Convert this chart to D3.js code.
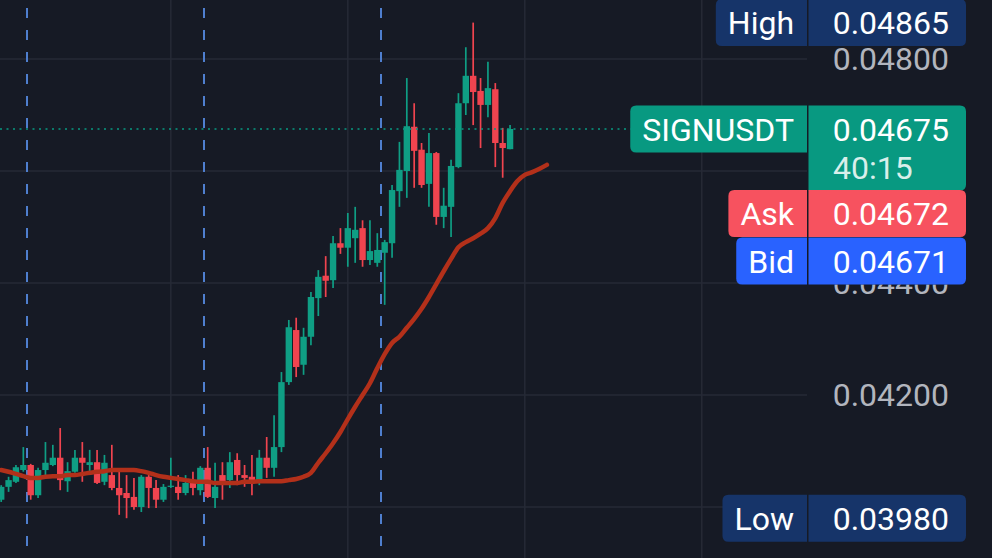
<!DOCTYPE html>
<html><head><meta charset="utf-8">
<script src="https://cdn.jsdelivr.net/npm/d3@7"></script>
<style>html,body{margin:0;padding:0;background:#161a25;overflow:hidden}svg{display:block}</style>
</head><body><svg id="c" width="992" height="558"></svg>
<script>
// ---- data (prices) ----
const openP  = [0.04013,0.04036,0.04045,0.04066,0.04075,0.04021,0.04066,0.04075,0.04088,0.04046,
                0.04063,0.04088,0.04075,0.04080,0.04045,0.04057,0.04034,0.04025,0.04018,0.04000,
                0.04054,0.04034,0.04013,0.04036,0.04036,0.04025,0.04048,0.04030,0.04070,0.04016,
                0.04057,0.04048,0.04084,0.04057,0.04054,0.04048,0.04088,0.04070,0.04107,0.04223,
                0.04316,0.04254,0.04304,0.04373,0.04413,0.04405,0.04471,0.04463,0.04480,0.04498,
                0.04441,0.04436,0.04454,0.04471,0.04564,0.04600,0.04679,0.04638,0.04577,0.04632,
                0.04518,0.04536,0.04607,0.04721,0.04770,0.04743,0.04718,0.04746,0.04650,0.04639];
const highP  = [0.04039,0.04054,0.04075,0.04107,0.04077,0.04070,0.04116,0.04111,0.04141,0.04080,
                0.04102,0.04116,0.04102,0.04102,0.04093,0.04111,0.04063,0.04057,0.04052,0.04057,
                0.04057,0.04048,0.04041,0.04088,0.04057,0.04057,0.04063,0.04073,0.04107,0.04079,
                0.04080,0.04098,0.04096,0.04075,0.04093,0.04102,0.04125,0.04164,0.04241,0.04334,
                0.04338,0.04320,0.04384,0.04423,0.04448,0.04484,0.04498,0.04525,0.04536,0.04512,
                0.04512,0.04489,0.04477,0.04575,0.04652,0.04766,0.04721,0.04650,0.04668,0.04634,
                0.04570,0.04620,0.04739,0.04821,0.04865,0.04766,0.04795,0.04757,0.04677,0.04682];
const lowP   = [0.04009,0.04027,0.04043,0.04063,0.04013,0.04016,0.04057,0.04073,0.04030,0.04027,
                0.04061,0.04045,0.04057,0.04041,0.04039,0.04030,0.03986,0.03980,0.03995,0.03991,
                0.03998,0.03998,0.04009,0.04034,0.04013,0.04021,0.04021,0.04021,0.04016,0.03998,
                0.04013,0.04034,0.04039,0.04036,0.04021,0.04039,0.04052,0.04054,0.04098,0.04218,
                0.04232,0.04236,0.04289,0.04341,0.04375,0.04391,0.04452,0.04429,0.04436,0.04429,
                0.04432,0.04429,0.04361,0.04445,0.04536,0.04552,0.04570,0.04570,0.04536,0.04504,
                0.04498,0.04482,0.04605,0.04700,0.04682,0.04641,0.04696,0.04607,0.04588,0.04639];
const closeP = [0.04036,0.04048,0.04071,0.04075,0.04021,0.04066,0.04079,0.04088,0.04048,0.04064,
                0.04088,0.04079,0.04080,0.04043,0.04079,0.04034,0.04021,0.04016,0.04000,0.04054,
                0.04034,0.04013,0.04036,0.04038,0.04025,0.04043,0.04034,0.04070,0.04018,0.04036,
                0.04045,0.04080,0.04057,0.04052,0.04048,0.04088,0.04070,0.04107,0.04223,0.04321,
                0.04250,0.04304,0.04375,0.04411,0.04404,0.04471,0.04463,0.04498,0.04495,0.04441,
                0.04457,0.04459,0.04473,0.04566,0.04602,0.04680,0.04636,0.04575,0.04632,0.04518,
                0.04538,0.04609,0.04721,0.04770,0.04741,0.04718,0.04748,0.04650,0.04641,0.04675];
// moving average, displaced forward (75 points)
const maP    = [0.04066,0.04063,0.04059,0.04055,0.04052,0.04052,0.04054,0.04055,0.04055,0.04057,
                0.04057,0.04059,0.04061,0.04063,0.04064,0.04066,0.04066,0.04066,0.04066,0.04064,
                0.04061,0.04057,0.04054,0.04052,0.04050,0.04048,0.04046,0.04045,0.04045,0.04043,
                0.04043,0.04043,0.04043,0.04045,0.04045,0.04046,0.04046,0.04046,0.04046,0.04048,
                0.04050,0.04054,0.04061,0.04079,0.04096,0.04114,0.04134,0.04157,0.04179,0.04200,
                0.04221,0.04248,0.04273,0.04293,0.04304,0.04320,0.04336,0.04354,0.04375,0.04398,
                0.04421,0.04443,0.04464,0.04473,0.04480,0.04488,0.04498,0.04516,0.04543,0.04564,
                0.04582,0.04593,0.04598,0.04604,0.04611];
const priceTicks = [0.040, 0.042, 0.044, 0.046, 0.048];
const timeGridIdx = [23, 47, 71, 95];
const sessionIdx = [3.5, 27.5, 51.5];
const labelNames  = ["High", "SIGNUSDT", "Ask", "Bid", "Low"];
const labelValues = [0.04865, 0.04675, 0.04672, 0.04671, 0.03980];
const countdown = "40:15";

// ---- drawing ----
const W = 992, H = 558, plotRight = 807;
const svg = d3.select("#c");
const x = d3.scaleLinear().domain([0, 95]).range([1.2, 701.8]);
const y = d3.scaleLinear().domain([0.040, 0.048]).range([507, 59]);
const UP = "#0f9e84", DOWN = "#f0444f";
const FONT = "Roboto, 'Noto Sans', sans-serif";

svg.append("rect").attr("width", W).attr("height", H).attr("fill", "#161a25");

// grid
svg.append("g").selectAll("line").data(priceTicks).join("line")
  .attr("x1", 0).attr("x2", plotRight).attr("y1", d => y(d)).attr("y2", d => y(d))
  .attr("stroke", "#262a36").attr("stroke-width", 1.5);
svg.append("g").selectAll("line").data(timeGridIdx).join("line")
  .attr("x1", d => x(d)).attr("x2", d => x(d)).attr("y1", 0).attr("y2", H)
  .attr("stroke", "#262a36").attr("stroke-width", 1.5);
svg.append("g").selectAll("line").data(sessionIdx).join("line")
  .attr("x1", d => x(d)).attr("x2", d => x(d)).attr("y1", 8).attr("y2", H)
  .attr("stroke", "#4f7fcf").attr("stroke-width", 2).attr("stroke-dasharray", "10,12");

// label geometry (used to skip tick labels that the badges fully hide)
const LH = 47, R = 6, valX0 = 808.5, valX1 = 966;
const labelColors = ["#163469", "#089981", "#f7525f", "#2962ff", "#163469"];
const labelTops = [y(labelValues[0]) - LH / 2, y(labelValues[1]) - LH / 2, 190, 237.5, y(labelValues[4]) - LH / 2];
const valueHeights = [LH, 85, LH, LH, LH];
const covered = d => labelTops.some((t, k) => y(d) - 12 >= t - 1 && y(d) + 12 <= t + valueHeights[k] + 1);

// price axis tick labels
const tickG = svg.append("g");
tickG.append("clipPath").attr("id", "tickclip").append("rect")
  .attr("x", 810).attr("y", 284.5).attr("width", 182).attr("height", 400);
tickG.selectAll("text").data(priceTicks.filter(d => !covered(d))).join("text")
  .attr("x", 949).attr("y", d => y(d) + 11).attr("text-anchor", "end")
  .attr("clip-path", d => d === 0.044 ? "url(#tickclip)" : null)
  .attr("font-family", FONT).attr("font-size", 32).attr("fill", "#b2b5be")
  .text(d => d3.format(".5f")(d));

// candles
const idx = d3.range(closeP.length);
const cg = svg.append("g");
cg.selectAll("line").data(idx).join("line")
  .attr("x1", i => x(i)).attr("x2", i => x(i))
  .attr("y1", i => y(highP[i])).attr("y2", i => y(lowP[i]))
  .attr("stroke", i => closeP[i] >= openP[i] ? UP : DOWN).attr("stroke-width", 1.7);
const bw = 6.4;
cg.selectAll("rect").data(idx).join("rect")
  .attr("x", i => x(i) - bw / 2).attr("width", bw)
  .attr("y", i => y(Math.max(openP[i], closeP[i])))
  .attr("height", i => Math.max(1.2, Math.abs(y(openP[i]) - y(closeP[i]))))
  .attr("fill", i => closeP[i] >= openP[i] ? UP : DOWN);

// moving average
svg.append("path").datum(maP)
  .attr("d", d3.line().x((d, i) => x(i)).y(d => y(d)).curve(d3.curveMonotoneX))
  .attr("fill", "none").attr("stroke", "#b3301a").attr("stroke-width", 4.5)
  .attr("stroke-linejoin", "round").attr("stroke-linecap", "round");

// last price line
svg.append("line").attr("x1", 0).attr("x2", plotRight).attr("y1", y(labelValues[1])).attr("y2", y(labelValues[1]))
  .attr("stroke", "#089981").attr("stroke-width", 1.5).attr("stroke-dasharray", "2,4.5");

// labels
function rr(x0, y0, w, h, tl, tr, br, bl) {
  return `M${x0 + tl},${y0}H${x0 + w - tr}Q${x0 + w},${y0} ${x0 + w},${y0 + tr}V${y0 + h - br}` +
    `Q${x0 + w},${y0 + h} ${x0 + w - br},${y0 + h}H${x0 + bl}Q${x0},${y0 + h} ${x0},${y0 + h - bl}V${y0 + tl}Q${x0},${y0} ${x0 + tl},${y0}Z`;
}
const lg = svg.append("g");
labelNames.forEach((name, k) => {
  const top = labelTops[k];
  const g = lg.append("g");
  const leftPath = g.append("path");
  const t = g.append("text").attr("x", 794).attr("y", top + LH / 2 + 11.5).attr("text-anchor", "end")
    .attr("font-family", FONT).attr("font-size", 32).attr("fill", "#ffffff").text(name);
  const tw = t.node().getComputedTextLength();
  const lx = 794 - tw - 12;
  leftPath.attr("d", rr(lx, top, plotRight - lx, LH, R, 0, 0, R)).attr("fill", labelColors[k]);
  const vh = valueHeights[k];
  g.append("path").attr("d", rr(valX0, top, valX1 - valX0, vh, 0, R, R, 0))
    .attr("fill", labelColors[k]);
  g.append("text").attr("x", 949).attr("y", top + LH / 2 + 11.5).attr("text-anchor", "end")
    .attr("font-family", FONT).attr("font-size", 32).attr("fill", "#ffffff")
    .text(d3.format(".5f")(labelValues[k]));
  if (k === 1) {
    g.append("text").attr("x", 833).attr("y", top + LH / 2 + 11.5 + 38).attr("text-anchor", "start")
      .attr("font-family", FONT).attr("font-size", 32).attr("fill", "#ffffff").attr("fill-opacity", 0.85)
      .text(countdown);
  }
});
</script></body></html>
